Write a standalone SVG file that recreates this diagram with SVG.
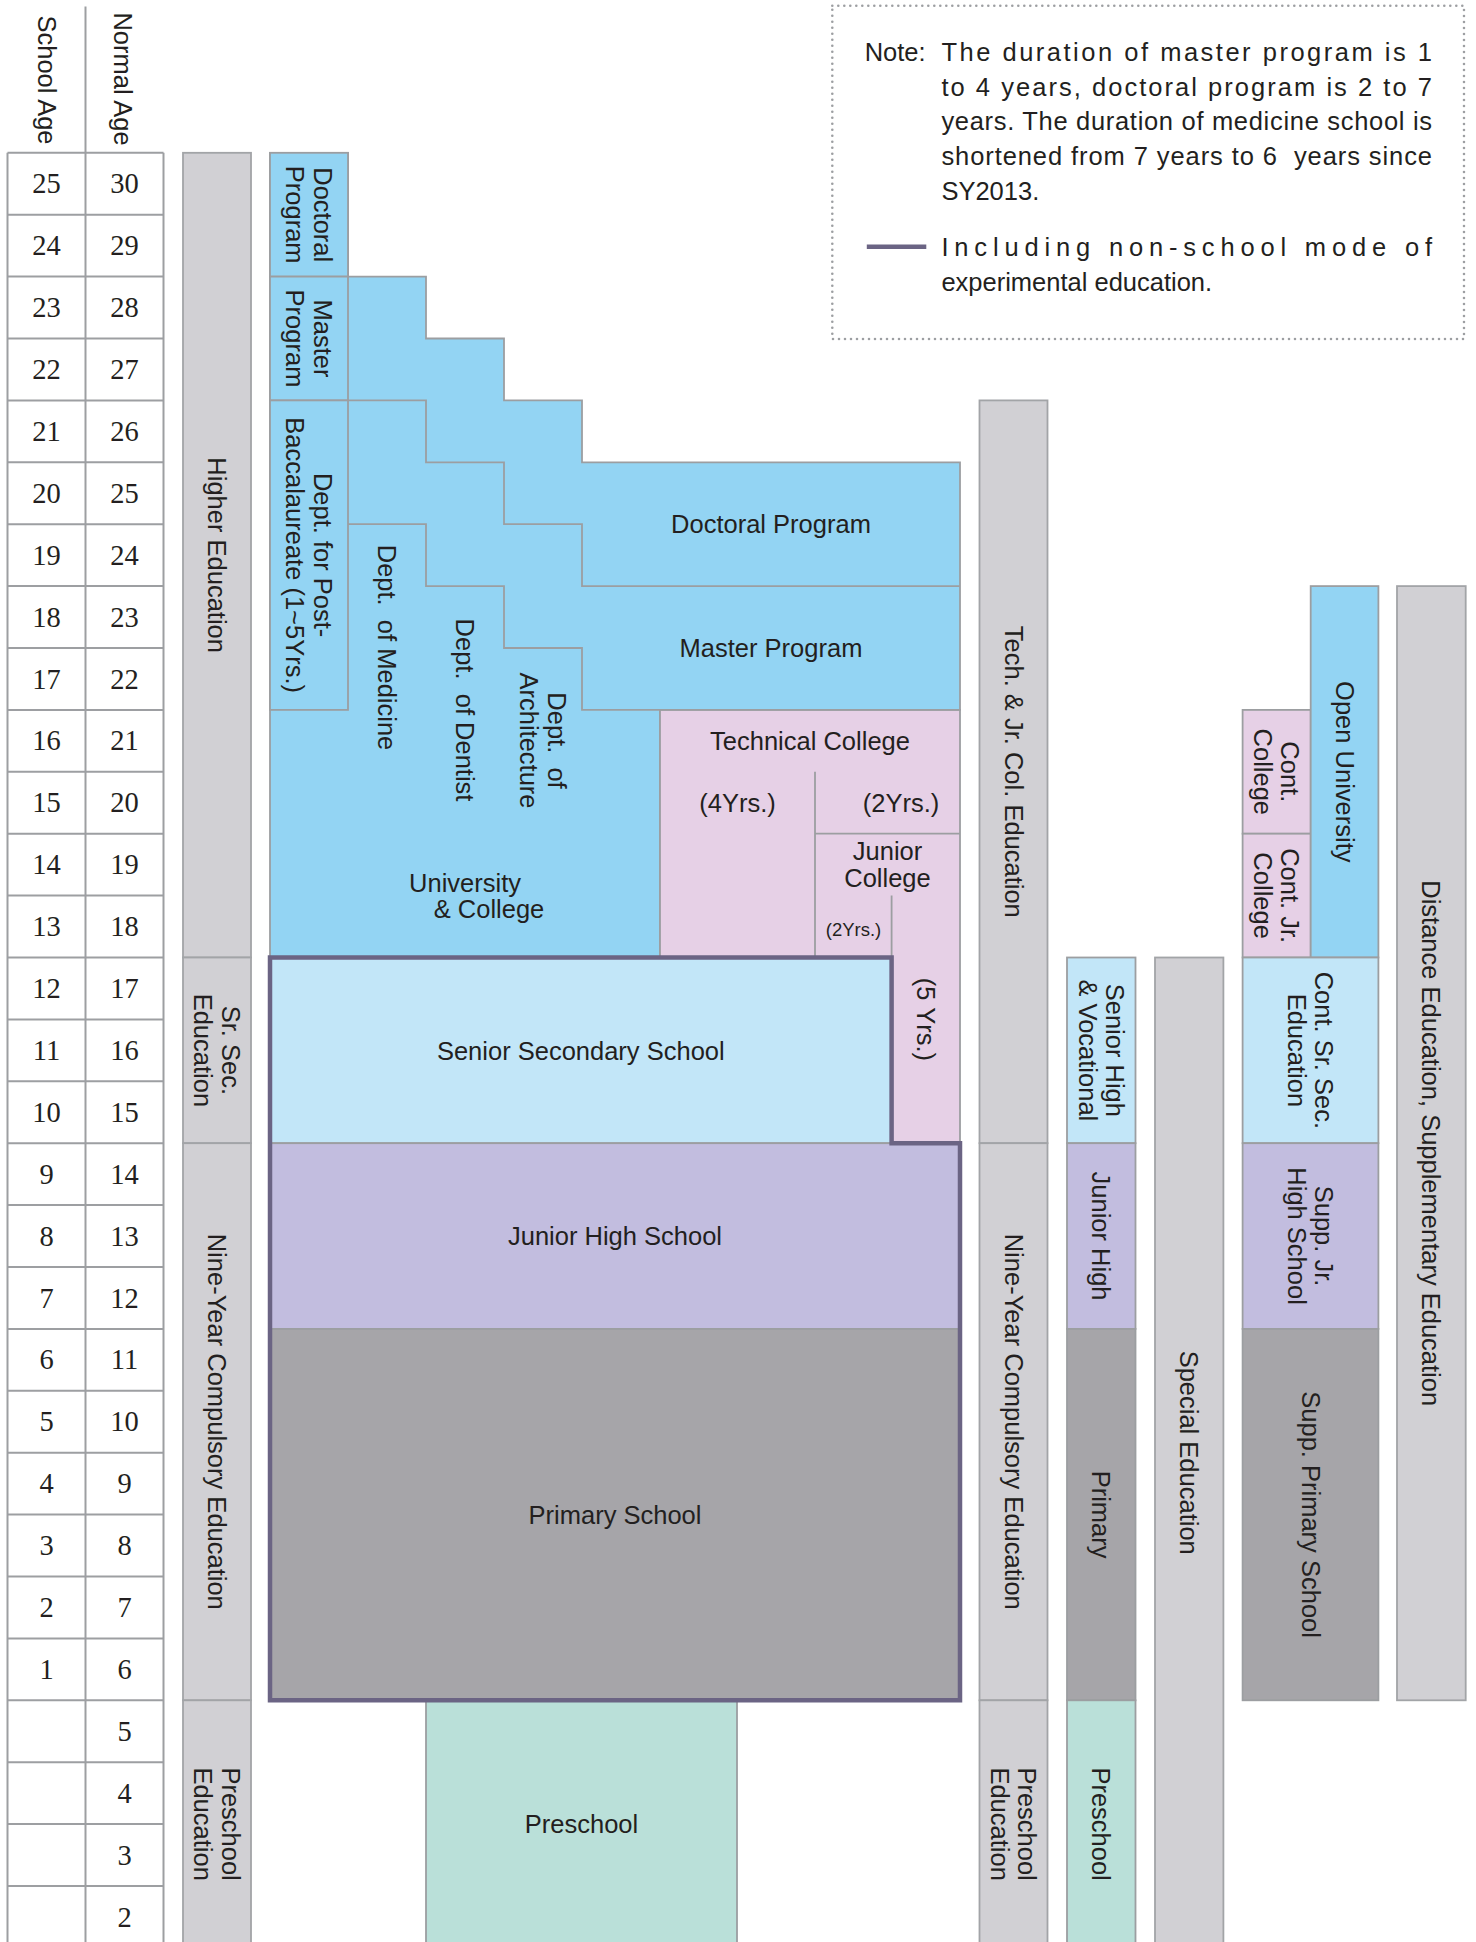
<svg xmlns="http://www.w3.org/2000/svg" width="1476" height="1942" viewBox="0 0 1476 1942">
<style>
.grid{fill:none;stroke:#9d9fa2;stroke-width:2}
.band{fill:#d1d0d4;stroke:#a2a4a7;stroke-width:1.8}
.b{stroke:#9c9ea1;stroke-width:1.8}
.blue{fill:#93d4f3}
.lblue{fill:#c2e6f8}
.pink{fill:#e6d0e6}
.purple{fill:#c2bddf}
.gray{fill:#a6a5a9}
.teal{fill:#bae0d9}
.ln{fill:none;stroke:#9c9ea1;stroke-width:1.8}
.thick{fill:none;stroke:#6b6484;stroke-width:4.5}
text{font-family:"Liberation Sans",Arial,sans-serif;font-size:25.5px;fill:#231f20}
.c{text-anchor:middle}
.num{font-family:"Liberation Serif","Times New Roman",serif;font-size:28.5px;text-anchor:middle}
.small{font-size:18.5px}
.note{font-size:25.5px}
</style>
<rect width="1476" height="1942" fill="#fff"/>

<!-- Age table -->
<g id="age-table">
<path class="grid" d="M7.5,152.8V1950 M85.5,6.5V1950 M163.5,152.8V1950 M7.5,152.8H163.5 M7.5,214.7H163.5 M7.5,276.6H163.5 M7.5,338.5H163.5 M7.5,400.4H163.5 M7.5,462.3H163.5 M7.5,524.2H163.5 M7.5,586.1H163.5 M7.5,648H163.5 M7.5,709.9H163.5 M7.5,771.8H163.5 M7.5,833.7H163.5 M7.5,895.6H163.5 M7.5,957.5H163.5 M7.5,1019.4H163.5 M7.5,1081.3H163.5 M7.5,1143.2H163.5 M7.5,1205.1H163.5 M7.5,1267H163.5 M7.5,1328.9H163.5 M7.5,1390.8H163.5 M7.5,1452.7H163.5 M7.5,1514.6H163.5 M7.5,1576.5H163.5 M7.5,1638.4H163.5 M7.5,1700.3H163.5 M7.5,1762.2H163.5 M7.5,1824.1H163.5 M7.5,1886H163.5"/>
<text class="c" transform="translate(46.5,80) rotate(90)" y="9">School Age</text>
<text class="c" transform="translate(123,79) rotate(90)" y="9">Normal Age</text>
<g class="num">
<text class="num" x="46.5" y="193.3">25</text><text class="num" x="124.5" y="193.3">30</text>
<text class="num" x="46.5" y="255.2">24</text><text class="num" x="124.5" y="255.2">29</text>
<text class="num" x="46.5" y="317.1">23</text><text class="num" x="124.5" y="317.1">28</text>
<text class="num" x="46.5" y="379">22</text><text class="num" x="124.5" y="379">27</text>
<text class="num" x="46.5" y="440.9">21</text><text class="num" x="124.5" y="440.9">26</text>
<text class="num" x="46.5" y="502.8">20</text><text class="num" x="124.5" y="502.8">25</text>
<text class="num" x="46.5" y="564.7">19</text><text class="num" x="124.5" y="564.7">24</text>
<text class="num" x="46.5" y="626.6">18</text><text class="num" x="124.5" y="626.6">23</text>
<text class="num" x="46.5" y="688.5">17</text><text class="num" x="124.5" y="688.5">22</text>
<text class="num" x="46.5" y="750.4">16</text><text class="num" x="124.5" y="750.4">21</text>
<text class="num" x="46.5" y="812.3">15</text><text class="num" x="124.5" y="812.3">20</text>
<text class="num" x="46.5" y="874.2">14</text><text class="num" x="124.5" y="874.2">19</text>
<text class="num" x="46.5" y="936.1">13</text><text class="num" x="124.5" y="936.1">18</text>
<text class="num" x="46.5" y="998">12</text><text class="num" x="124.5" y="998">17</text>
<text class="num" x="46.5" y="1059.9">11</text><text class="num" x="124.5" y="1059.9">16</text>
<text class="num" x="46.5" y="1121.8">10</text><text class="num" x="124.5" y="1121.8">15</text>
<text class="num" x="46.5" y="1183.7">9</text><text class="num" x="124.5" y="1183.7">14</text>
<text class="num" x="46.5" y="1245.6">8</text><text class="num" x="124.5" y="1245.6">13</text>
<text class="num" x="46.5" y="1307.5">7</text><text class="num" x="124.5" y="1307.5">12</text>
<text class="num" x="46.5" y="1369.4">6</text><text class="num" x="124.5" y="1369.4">11</text>
<text class="num" x="46.5" y="1431.3">5</text><text class="num" x="124.5" y="1431.3">10</text>
<text class="num" x="46.5" y="1493.2">4</text><text class="num" x="124.5" y="1493.2">9</text>
<text class="num" x="46.5" y="1555.1">3</text><text class="num" x="124.5" y="1555.1">8</text>
<text class="num" x="46.5" y="1617">2</text><text class="num" x="124.5" y="1617">7</text>
<text class="num" x="46.5" y="1678.9">1</text><text class="num" x="124.5" y="1678.9">6</text>
<text class="num" x="124.5" y="1740.8">5</text>
<text class="num" x="124.5" y="1802.7">4</text>
<text class="num" x="124.5" y="1864.6">3</text>
<text class="num" x="124.5" y="1926.5">2</text>
</g>
</g>

<!-- Left stage bands -->
<g id="band-higher"><rect class="band" x="183" y="152.8" width="68" height="804.7"/><text class="c" transform="translate(217,555.15) rotate(90)" y="9">Higher Education</text></g>
<g id="band-srsec"><rect class="band" x="183" y="957.5" width="68" height="185.7"/><text class="c" transform="translate(217,1050.35) rotate(90)"><tspan x="0" y="-4.75">Sr. Sec.</tspan><tspan x="0" y="22.75">Education</tspan></text></g>
<g id="band-nine"><rect class="band" x="183" y="1143.2" width="68" height="557.1"/><text class="c" transform="translate(217,1421.75) rotate(90)" y="9">Nine-Year Compulsory Education</text></g>
<g id="band-preschool"><rect class="band" x="183" y="1700.3" width="68" height="250"/><text class="c" transform="translate(217,1824.1) rotate(90)"><tspan x="0" y="-4.75">Preschool</tspan><tspan x="0" y="22.75">Education</tspan></text></g>

<!-- Main column -->
<g id="university-college">
<path class="b blue" d="M270,152.8 H348 V276.6 H426 V338.5 H504 V400.4 H582 V462.3 H960 V709.9 H660 V957.5 H270 Z"/>
<text class="c" x="465" y="891.7">University</text>
<text class="c" x="489" y="918">&amp; College</text>
</g>
<g id="doctoral-left"><rect class="b blue" x="270" y="152.8" width="78" height="123.8"/><text class="c" transform="translate(309,214.7) rotate(90)"><tspan x="0" y="-4.75">Doctoral</tspan><tspan x="0" y="22.75">Program</tspan></text></g>
<g id="master-left"><rect class="b blue" x="270" y="276.6" width="78" height="123.8"/><text class="c" transform="translate(309,338.5) rotate(90)"><tspan x="0" y="-4.75">Master</tspan><tspan x="0" y="22.75">Program</tspan></text></g>
<g id="post-bacc"><rect class="b blue" x="270" y="400.4" width="78" height="309.5"/><text class="c" transform="translate(309,555.15) rotate(90)"><tspan x="0" y="-4.75">Dept. for Post-</tspan><tspan x="0" y="22.75">Baccalaureate (1~5Yrs.)</tspan></text></g>
<g id="doctoral-program"><text class="c" x="771" y="533">Doctoral Program</text></g>
<g id="master-program"><text class="c" x="771" y="657">Master Program</text></g>
<g id="dept-medicine"><text class="c" transform="translate(387,647.5) rotate(90)" y="9" xml:space="preserve">Dept.  of Medicine</text></g>
<g id="dept-dentist"><text class="c" transform="translate(465,710) rotate(90)" y="9" xml:space="preserve">Dept.  of Dentist</text></g>
<g id="dept-architecture"><text class="c" transform="translate(543,740.5) rotate(90)" xml:space="preserve"><tspan x="0" y="-4.75">Dept.  of</tspan><tspan x="0" y="22.75">Architecture</tspan></text></g>

<g id="technical-college">
<path class="b pink" d="M660,709.9 H960 V1143.2 H891.6 V957.5 H660 Z"/>
<text class="c" x="810" y="749.5">Technical College</text>
<text class="c" x="737.5" y="811.7">(4Yrs.)</text>
<text class="c" x="901" y="811.7">(2Yrs.)</text>
</g>
<g id="junior-college">
<text class="c" x="887.5" y="860">Junior</text>
<text class="c" x="887.5" y="886.7">College</text>
<text class="c small" x="853.5" y="936">(2Yrs.)</text>
<text class="c" transform="translate(925.8,1019.4) rotate(90)" y="9">(5 Yrs.)</text>
</g>

<g id="senior-secondary"><rect class="b lblue" x="270" y="957.5" width="621.6" height="185.7"/><text class="c" x="580.8" y="1059.5">Senior Secondary School</text></g>
<g id="junior-high"><rect class="b purple" x="270" y="1143.2" width="690" height="185.7"/><text class="c" x="615" y="1245">Junior High School</text></g>
<g id="primary"><rect class="b gray" x="270" y="1328.9" width="690" height="371.4"/><text class="c" x="615" y="1523.6">Primary School</text></g>
<g id="preschool"><rect class="b teal" x="426" y="1700.3" width="311" height="250"/><text class="c" x="581.5" y="1833">Preschool</text></g>

<!-- dividers and staircase lines -->
<g id="connectors">
<path class="ln" d="M348,400.4 H426 V462.3 H504 V524.2 H582 V586.1 H960"/>
<path class="ln" d="M348,524.2 H426 V586.1 H504 V648 H582 V709.9 H960"/>
<path class="ln" d="M815,771.8 V957.5 M815,833.7 H960 M891.6,895.6 V957.5"/>
<path class="thick" d="M270,957.5 H891.6 V1143.2 H960 V1700.3 H270 Z"/>
</g>

<!-- Right side columns -->
<g id="band-tech"><rect class="band" x="979.5" y="400.4" width="68" height="742.8"/><text class="c" transform="translate(1013.5,771.8) rotate(90)" y="9">Tech. &amp; Jr. Col. Education</text></g>
<g id="band-nine-right"><rect class="band" x="979.5" y="1143.2" width="68" height="557.1"/><text class="c" transform="translate(1013.5,1421.75) rotate(90)" y="9">Nine-Year Compulsory Education</text></g>
<g id="band-preschool-right"><rect class="band" x="979.5" y="1700.3" width="68" height="250"/><text class="c" transform="translate(1013.5,1824.1) rotate(90)"><tspan x="0" y="-4.75">Preschool</tspan><tspan x="0" y="22.75">Education</tspan></text></g>

<g id="senior-high-vocational"><rect class="b lblue" x="1067" y="957.5" width="68.5" height="185.7"/><text class="c" transform="translate(1101.25,1050.35) rotate(90)"><tspan x="0" y="-4.75">Senior High</tspan><tspan x="0" y="22.75">&amp; Vocational</tspan></text></g>
<g id="junior-high-right"><rect class="b purple" x="1067" y="1143.2" width="68.5" height="185.7"/><text class="c" transform="translate(1101.25,1236.05) rotate(90)" y="9">Junior High</text></g>
<g id="primary-right"><rect class="b gray" x="1067" y="1328.9" width="68.5" height="371.4"/><text class="c" transform="translate(1101.25,1514.6) rotate(90)" y="9">Primary</text></g>
<g id="preschool-right"><rect class="b teal" x="1067" y="1700.3" width="68.5" height="250"/><text class="c" transform="translate(1101.25,1824.1) rotate(90)" y="9">Preschool</text></g>

<g id="special-education"><rect class="band" x="1155" y="957.5" width="68.4" height="992"/><text class="c" transform="translate(1189.2,1452.7) rotate(90)" y="9">Special Education</text></g>

<g id="cont-college"><rect class="b pink" x="1242.6" y="709.9" width="68.1" height="123.8"/><text class="c" transform="translate(1276.65,771.8) rotate(90)"><tspan x="0" y="-4.75">Cont.</tspan><tspan x="0" y="22.75">College</tspan></text></g>
<g id="cont-jr-college"><rect class="b pink" x="1242.6" y="833.7" width="68.1" height="123.8"/><text class="c" transform="translate(1276.65,895.6) rotate(90)"><tspan x="0" y="-4.75">Cont. Jr.</tspan><tspan x="0" y="22.75">College</tspan></text></g>
<g id="open-university"><rect class="b blue" x="1310.7" y="586.1" width="67.7" height="371.4"/><text class="c" transform="translate(1344.55,771.8) rotate(90)" y="9">Open University</text></g>
<g id="cont-sr-sec"><rect class="b lblue" x="1242.6" y="957.5" width="135.8" height="185.7"/><text class="c" transform="translate(1310.5,1050.35) rotate(90)"><tspan x="0" y="-4.75">Cont. Sr. Sec.</tspan><tspan x="0" y="22.75">Education</tspan></text></g>
<g id="supp-jr-high"><rect class="b purple" x="1242.6" y="1143.2" width="135.8" height="185.7"/><text class="c" transform="translate(1310.5,1236.05) rotate(90)"><tspan x="0" y="-4.75">Supp. Jr.</tspan><tspan x="0" y="22.75">High School</tspan></text></g>
<g id="supp-primary"><rect class="b gray" x="1242.6" y="1328.9" width="135.8" height="371.4"/><text class="c" transform="translate(1310.5,1514.6) rotate(90)" y="9">Supp. Primary School</text></g>

<g id="distance-education"><rect class="band" x="1397" y="586.1" width="68.7" height="1114.2"/><text class="c" transform="translate(1431.35,1143.2) rotate(90)" y="9">Distance Education, Supplementary Education</text></g>

<!-- Note -->
<g id="note">
<rect x="832.3" y="5.7" width="631.7" height="333.3" fill="none" stroke="#9d9fa2" stroke-width="2.6" stroke-linecap="round" stroke-dasharray="0 6"/>
<text class="note" x="864.7" y="61">Note:</text>
<text class="note" x="941.4" y="61" textLength="490.6" lengthAdjust="spacing">The duration of master program is 1</text>
<text class="note" x="941.4" y="95.7" textLength="490.6" lengthAdjust="spacing">to 4 years, doctoral program is 2 to 7</text>
<text class="note" x="941.4" y="130.4" textLength="490.6" lengthAdjust="spacing">years. The duration of medicine school is</text>
<text class="note" x="941.4" y="165.1" textLength="490.6" lengthAdjust="spacing" xml:space="preserve">shortened from 7 years to 6  years since</text>
<text class="note" x="941.4" y="199.8">SY2013.</text>
<path d="M866.8,246.7 H926.3" stroke="#6b6484" stroke-width="4.5"/>
<text class="note" x="941.4" y="256" textLength="490.6" lengthAdjust="spacing">Including non-school mode of</text>
<text class="note" x="941.4" y="290.5">experimental education.</text>
</g>
</svg>
